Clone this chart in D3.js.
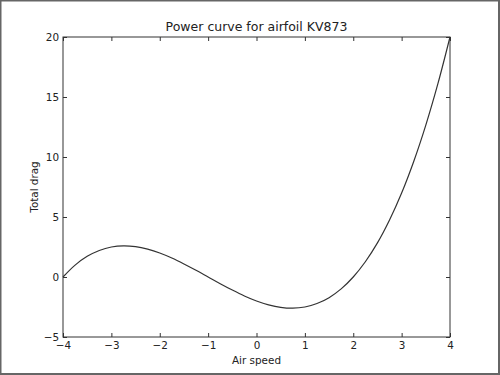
<!DOCTYPE html>
<html>
<head>
<meta charset="utf-8">
<script src="https://cdn.jsdelivr.net/npm/d3@7"></script>
<style>
  html, body { margin: 0; padding: 0; background: #fff; }
  svg { display: block; font-family: "DejaVu Sans", sans-serif; }
</style>
</head>
<body>
<script>
// values
const airSpeed = [-4, -3.75, -3.5, -3.25, -3, -2.75, -2.5, -2.25, -2, -1.75, -1.5, -1.25, -1,
  -0.75, -0.5, -0.25, 0, 0.25, 0.5, 0.75, 1, 1.25, 1.5, 1.75, 2, 2.25, 2.5, 2.75, 3, 3.25, 3.5, 3.75, 4];
const totalDrag = [0, 0.99, 1.72, 2.21, 2.5, 2.6, 2.53, 2.32, 2.0, 1.58, 1.09, 0.56, 0,
  -0.56, -1.09, -1.58, -2.0, -2.32, -2.53, -2.6, -2.5, -2.21, -1.72, -0.99, 0, 1.27, 2.84, 4.75, 7.0, 9.63, 12.66, 16.11, 20];
const xTicks = [-4, -3, -2, -1, 0, 1, 2, 3, 4];
const yTicks = [-5, 0, 5, 10, 15, 20];

const width = 500, height = 375;
const margin = {top: 37, right: 50, bottom: 38, left: 63};
const fontSize = '10.4px';

const svg = d3.select('body').append('svg')
  .attr('width', width)
  .attr('height', height);

// outer frame
svg.append('rect')
  .attr('x', 0.5).attr('y', 0.5)
  .attr('width', width - 1.5).attr('height', height - 1.5)
  .attr('fill', 'white')
  .attr('stroke', '#666')
  .attr('stroke-width', 2);

const x = d3.scaleLinear().domain([-4, 4]).range([margin.left, width - margin.right]);
const y = d3.scaleLinear().domain([-5, 20]).range([height - margin.bottom, margin.top]);

const fmt = d => d < 0 ? '\u2212' + Math.abs(d) : String(d);

function styleAxis(g) {
  g.select('.domain').remove();
  g.selectAll('.tick line').attr('stroke', '#333');
  g.selectAll('.tick text').attr('fill', '#222').style('font-size', fontSize)
    .style('font-family', '"DejaVu Sans", sans-serif');
}

// bottom / top ticks (inward)
svg.append('g')
  .attr('transform', `translate(0,${height - margin.bottom})`)
  .call(d3.axisBottom(x).tickValues(xTicks).tickFormat(fmt).tickSizeInner(-4).tickPadding(5))
  .call(styleAxis);
svg.append('g')
  .attr('transform', `translate(0,${margin.top})`)
  .call(d3.axisTop(x).tickValues(xTicks).tickSizeInner(-4).tickFormat(''))
  .call(styleAxis);
svg.append('g')
  .attr('transform', `translate(${margin.left},0)`)
  .call(d3.axisLeft(y).tickValues(yTicks).tickFormat(fmt).tickSizeInner(-4).tickPadding(4))
  .call(styleAxis);
svg.append('g')
  .attr('transform', `translate(${width - margin.right},0)`)
  .call(d3.axisRight(y).tickValues(yTicks).tickSizeInner(-4).tickFormat(''))
  .call(styleAxis);

// curve
const line = d3.line()
  .x((d, i) => x(airSpeed[i]))
  .y(d => y(d))
  .curve(d3.curveCatmullRom);

svg.append('path')
  .datum(totalDrag)
  .attr('d', line)
  .attr('fill', 'none')
  .attr('stroke', '#333')
  .attr('stroke-width', 1.2);

// plot frame
svg.append('rect')
  .attr('x', margin.left).attr('y', margin.top)
  .attr('width', width - margin.left - margin.right)
  .attr('height', height - margin.top - margin.bottom)
  .attr('fill', 'none')
  .attr('stroke', '#333')
  .attr('stroke-width', 1);

// texts
svg.append('text')
  .attr('x', (margin.left + width - margin.right) / 2)
  .attr('y', 31)
  .attr('text-anchor', 'middle')
  .style('font-size', '12.5px')
  .attr('fill', '#222')
  .text('Power curve for airfoil KV873');

svg.append('text')
  .attr('x', (margin.left + width - margin.right) / 2)
  .attr('y', 364)
  .attr('text-anchor', 'middle')
  .style('font-size', fontSize)
  .attr('fill', '#222')
  .text('Air speed');

svg.append('text')
  .attr('transform', `translate(37.5,${(margin.top + height - margin.bottom) / 2}) rotate(-90)`)
  .attr('text-anchor', 'middle')
  .style('font-size', fontSize)
  .attr('fill', '#222')
  .text('Total drag');
</script>
</body>
</html>
